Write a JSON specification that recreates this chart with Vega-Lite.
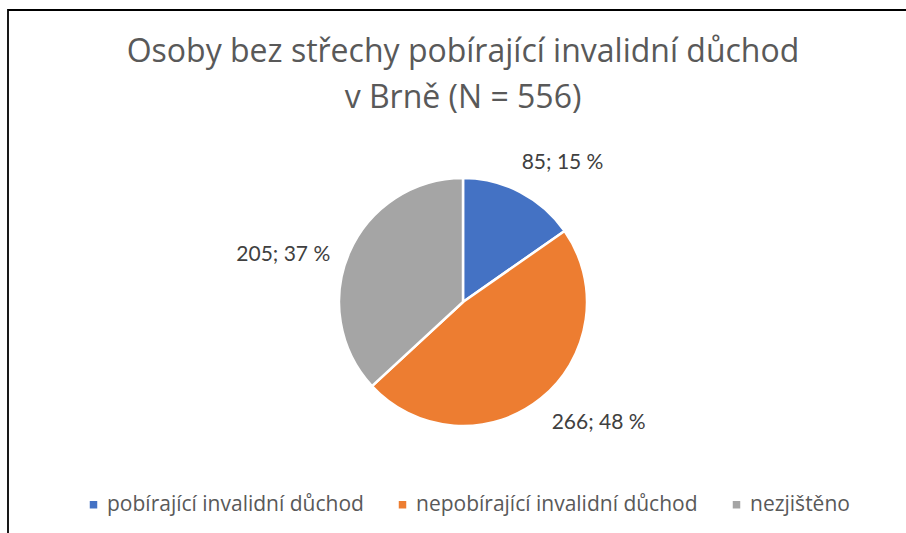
{
  "$schema": "https://vega.github.io/schema/vega-lite/v6.json",
  "autosize": {"type": "none"},
  "padding": {"left": 8, "top": 10, "right": 0, "bottom": 0},
  "width": 910,
  "height": 584,
  "background": "white",
  "view": {"stroke": "#000000", "strokeWidth": 1.8},
  "title": {
    "text": ["Osoby bez střechy pobírající invalidní důchod", "v Brně (N = 556)"],
    "font": "Open Sans",
    "fontSize": 32,
    "fontWeight": "normal",
    "color": "#595959",
    "anchor": "middle",
    "lineHeight": 46,
    "baseline": "top",
    "offset": 0,
    "dy": 105
  },
  "data": {
    "values": [
      {"kategorie": "pobírající invalidní důchod", "pocet": 85, "podil": 15, "poradi": 1},
      {"kategorie": "nepobírající invalidní důchod", "pocet": 266, "podil": 48, "poradi": 2},
      {"kategorie": "nezjištěno", "pocet": 205, "podil": 37, "poradi": 3}
    ]
  },
  "encoding": {
    "theta": {"field": "pocet", "type": "quantitative", "stack": true},
    "order": {"field": "poradi", "type": "quantitative"}
  },
  "layer": [
    {
      "mark": {"type": "arc", "radius": 124, "stroke": "white", "strokeWidth": 2.5},
      "encoding": {
        "color": {
          "field": "kategorie",
          "type": "nominal",
          "sort": ["pobírající invalidní důchod", "nepobírající invalidní důchod", "nezjištěno"],
          "scale": {
            "domain": ["pobírající invalidní důchod", "nepobírající invalidní důchod", "nezjištěno"],
            "range": ["#4472C4", "#ED7D31", "#A5A5A5"]
          },
          "legend": {
            "title": null,
            "orient": "none",
            "direction": "horizontal",
            "legendX": 75,
            "legendY": 484,
            "padding": 0,
            "symbolType": "square",
            "symbolSize": 56,
            "symbolStrokeWidth": 0,
            "labelFont": "Open Sans",
            "labelFontSize": 21,
            "labelColor": "#595959",
            "labelOffset": 3,
            "columnPadding": 28,
            "labelLimit": 400
          }
        }
      }
    },
    {
      "mark": {"type": "text", "radius": 170, "font": "Lato", "fontSize": 21, "color": "#404040", "align": "center", "baseline": "middle", "dx": 21, "dy": 12},
      "encoding": {
        "text": {"condition": {"test": "datum.poradi === 1", "field": "popisek"}, "value": ""}
      },
      "transform": [{"calculate": "datum.pocet + '; ' + datum.podil + ' %'", "as": "popisek"}]
    },
    {
      "mark": {"type": "text", "radius": 170, "font": "Lato", "fontSize": 21, "color": "#404040", "align": "center", "baseline": "middle", "dx": 29, "dy": -11},
      "encoding": {
        "text": {"condition": {"test": "datum.poradi === 2", "field": "popisek"}, "value": ""}
      },
      "transform": [{"calculate": "datum.pocet + '; ' + datum.podil + ' %'", "as": "popisek"}]
    },
    {
      "mark": {"type": "text", "radius": 170, "font": "Lato", "fontSize": 21, "color": "#404040", "align": "center", "baseline": "middle", "dx": -24, "dy": 21},
      "encoding": {
        "text": {"condition": {"test": "datum.poradi === 3", "field": "popisek"}, "value": ""}
      },
      "transform": [{"calculate": "datum.pocet + '; ' + datum.podil + ' %'", "as": "popisek"}]
    }
  ]
}
